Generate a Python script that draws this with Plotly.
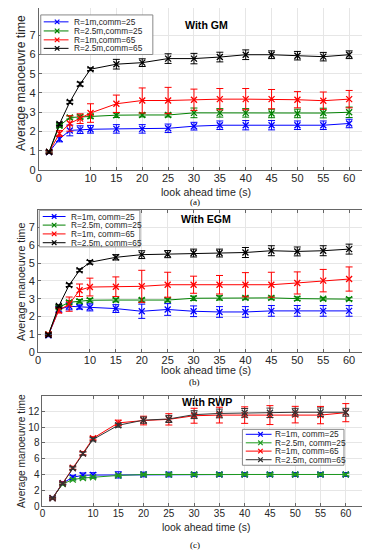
import plotly.graph_objects as go

# ---------------- data ----------------
look_ahead = [2, 4, 6, 8, 10, 15, 20, 25, 30, 35, 40, 45, 50, 55, 60]
x_tick_vals = [0, 10, 15, 20, 25, 30, 35, 40, 45, 50, 55, 60]

names_a = ["R=1m,comm=25", "R=2.5m,comm=25", "R=1m,comm=65", "R=2.5m,comm=65"]
names_bc = ["R=1m, comm=25", "R=2.5m, comm=25", "R=1m, comm=65", "R=2.5m, comm=65"]

# (a) With GM
gm_r1_c25 = [0.94, 1.62, 2.06, 2.10, 2.12, 2.14, 2.14, 2.17, 2.28, 2.33, 2.33, 2.33, 2.33, 2.33, 2.42]
gm_r1_c25_err = [0.08, 0.15, 0.28, 0.2, 0.2, 0.22, 0.22, 0.22, 0.2, 0.22, 0.24, 0.24, 0.22, 0.22, 0.22]
gm_r25_c25 = [0.95, 2.30, 2.73, 2.76, 2.79, 2.85, 2.86, 2.86, 2.97, 2.97, 2.97, 2.94, 2.94, 2.96, 3.0]
gm_r25_c25_err = [0.06, 0.08, 0.08, 0.1, 0.1, 0.12, 0.1, 0.1, 0.25, 0.22, 0.22, 0.22, 0.22, 0.25, 0.27]
gm_r1_c65 = [0.95, 1.90, 2.42, 2.67, 2.96, 3.44, 3.61, 3.61, 3.65, 3.68, 3.68, 3.68, 3.65, 3.60, 3.68]
gm_r1_c65_err = [0.06, 0.15, 0.4, 0.25, 0.48, 0.45, 0.65, 0.68, 0.55, 0.55, 0.55, 0.5, 0.42, 0.45, 0.45]
gm_r25_c65 = [0.94, 2.39, 3.53, 4.46, 5.23, 5.49, 5.57, 5.78, 5.78, 5.86, 5.98, 5.98, 5.93, 5.88, 5.98]
gm_r25_c65_err = [0.05, 0.07, 0.07, 0.1, 0.07, 0.25, 0.2, 0.25, 0.27, 0.25, 0.25, 0.2, 0.22, 0.22, 0.2]

# (b) With EGM
egm_r1_c25 = [0.95, 2.40, 2.58, 2.54, 2.52, 2.45, 2.30, 2.40, 2.30, 2.26, 2.26, 2.32, 2.32, 2.32, 2.32]
egm_r1_c25_err = [0.08, 0.15, 0.2, 0.12, 0.2, 0.22, 0.4, 0.33, 0.3, 0.3, 0.3, 0.3, 0.3, 0.3, 0.3]
egm_r25_c25 = [1.0, 2.52, 2.80, 2.86, 2.92, 2.93, 2.93, 2.93, 3.03, 3.05, 3.05, 3.05, 3.01, 3.0, 2.98]
egm_r25_c25_err = [0.06, 0.08, 0.1, 0.1, 0.1, 0.1, 0.1, 0.1, 0.12, 0.12, 0.1, 0.1, 0.1, 0.08, 0.08]
egm_r1_c65 = [1.0, 2.35, 2.70, 3.48, 3.66, 3.68, 3.70, 3.79, 3.79, 3.79, 3.79, 3.79, 3.89, 4.02, 4.11]
egm_r1_c65_err = [0.08, 0.15, 0.4, 0.35, 0.5, 0.55, 0.9, 0.7, 0.48, 0.52, 0.68, 0.7, 0.62, 0.63, 0.68]
egm_r25_c65 = [0.97, 2.60, 3.77, 4.60, 5.05, 5.33, 5.48, 5.51, 5.57, 5.57, 5.60, 5.70, 5.66, 5.70, 5.79]
egm_r25_c65_err = [0.05, 0.06, 0.08, 0.08, 0.1, 0.15, 0.22, 0.2, 0.22, 0.22, 0.28, 0.28, 0.25, 0.28, 0.28]

# (c) With RWP
rwp_r1_c25 = [1.0, 2.9, 3.65, 3.9, 3.93, 3.95, 4.0, 4.0, 4.0, 4.0, 4.0, 4.0, 4.0, 4.0, 4.0]
rwp_r1_c25_err = [0.15, 0.2, 0.25, 0.3, 0.3, 0.4, 0.3, 0.3, 0.25, 0.25, 0.25, 0.25, 0.25, 0.25, 0.25]
rwp_r25_c25 = [1.0, 2.8, 3.35, 3.55, 3.65, 3.88, 4.0, 4.0, 4.0, 4.0, 4.0, 4.0, 4.0, 4.0, 4.0]
rwp_r25_c25_err = [0.1, 0.15, 0.15, 0.15, 0.15, 0.15, 0.15, 0.15, 0.15, 0.15, 0.15, 0.15, 0.15, 0.15, 0.15]
rwp_r1_c65 = [1.0, 2.9, 4.85, 6.7, 8.6, 10.55, 10.85, 11.0, 11.46, 11.54, 11.54, 11.54, 11.6, 11.54, 11.85]
rwp_r1_c65_err = [0.1, 0.15, 0.2, 0.2, 0.2, 0.35, 0.55, 0.72, 0.95, 1.0, 1.05, 1.2, 1.05, 1.1, 1.15]
rwp_r25_c65 = [1.0, 2.85, 4.8, 6.65, 8.45, 10.25, 10.9, 11.05, 11.6, 11.75, 11.83, 11.83, 11.9, 11.9, 11.9]
rwp_r25_c65_err = [0.1, 0.1, 0.15, 0.2, 0.2, 0.25, 0.4, 0.45, 0.5, 0.55, 0.55, 0.6, 0.5, 0.55, 0.5]

panel_titles = ["With GM", "With EGM", "With RWP"]
captions = ["(a)", "(b)", "(c)"]
x_title = "look ahead time (s)"
y_title = "Average manoeuvre time"

# ---------------- layout helpers ----------------
W, H = 370, 550
def fx(p):
    return p / W
def fy(p):
    return 1 - p / H

FONT = "Liberation Sans, Arial, sans-serif"
colors_ab = ["#0000ff", "#008000", "#ff0000", "#000000"]
colors_c = ["#0000ff", "#1f9a1f", "#ff0000", "#333333"]

panels = [
    dict(series=[(gm_r1_c25, gm_r1_c25_err), (gm_r25_c25, gm_r25_c25_err),
                 (gm_r1_c65, gm_r1_c65_err), (gm_r25_c65, gm_r25_c65_err)],
         names=names_a, colors=colors_ab,
         xpx=(28, 367), ypx=(0, 164), yrange=[0, 8.4], yticks=list(range(0, 8)),
         tickfont=11, xmirror=False,
         title_xy=(197, 17), cap_y=196, xt_y=186, yt=(10, 76, 12.2), xt_size=10.6,
         leg=dict(box=(30, 7, 143, 47), rows=[14, 23.2, 32.2, 40.8], line=(33, 58), mark=46.5, text=62)),
    dict(series=[(egm_r1_c25, egm_r1_c25_err), (egm_r25_c25, egm_r25_c25_err),
                 (egm_r1_c65, egm_r1_c65_err), (egm_r25_c65, egm_r25_c65_err)],
         names=names_bc, colors=colors_ab,
         xpx=(27.3, 367), ypx=(204, 348), yrange=[0, 8], yticks=list(range(0, 8)),
         tickfont=11, xmirror="ticks",
         title_xy=(197, 213), cap_y=378, xt_y=366, yt=(10, 277, 10.6), xt_size=10.6,
         leg=dict(box=(28.5, 204.5, 130, 241.5), rows=[210.8, 219.5, 228.4, 237.3], line=(32, 55), mark=43.5, text=58.5)),
    dict(series=[(rwp_r1_c25, rwp_r1_c25_err), (rwp_r25_c25, rwp_r25_c25_err),
                 (rwp_r1_c65, rwp_r1_c65_err), (rwp_r25_c65, rwp_r25_c65_err)],
         names=names_bc, colors=colors_c,
         xpx=(31.7, 363), ypx=(392, 503.5), yrange=[0, 14], yticks=list(range(0, 14, 2)),
         tickfont=10, xmirror="ticks",
         title_xy=(198, 398), cap_y=543, xt_y=525, yt=(10, 448, 10.2), xt_size=10.4,
         leg=dict(box=(233.3, 426, 335.7, 462.3), rows=[431, 439.6, 448, 456.7], line=(236.7, 262.7), mark=251.5, text=264.5)),
]

fig = go.Figure()
shapes = []
annotations = []

for i, p in enumerate(panels, start=1):
    xa = "x" if i == 1 else f"x{i}"
    ya = "y" if i == 1 else f"y{i}"
    for (vals, errs), name, col in zip(p["series"], p["names"], p["colors"]):
        fig.add_trace(go.Scatter(
            x=look_ahead, y=vals, name=name, xaxis=xa, yaxis=ya, mode="lines+markers",
            line=dict(color=col, width=1),
            marker=dict(symbol="x-thin", size=6, line=dict(color=col, width=1.3), color=col),
            error_y=dict(type="data", array=errs, visible=True, color=col, thickness=1, width=3.5),
            showlegend=False,
        ))
    axis_common = dict(showline=True, linecolor="#666666", linewidth=1, ticks="inside", ticklen=3,
                       tickcolor="#666666", showgrid=True, gridcolor="#e6e6e6", gridwidth=1,
                       zeroline=False, tickfont=dict(family=FONT, size=p["tickfont"], color="#262626"))
    fig.update_layout(**{
        ("xaxis" if i == 1 else f"xaxis{i}"): dict(
            domain=[fx(p["xpx"][0]), fx(p["xpx"][1])], range=[0, 65], anchor=ya,
            tickvals=x_tick_vals, mirror=p["xmirror"], ticklabelstandoff=-2, **axis_common),
        ("yaxis" if i == 1 else f"yaxis{i}"): dict(
            domain=[fy(p["ypx"][1]), fy(p["ypx"][0])], range=p["yrange"], anchor=xa,
            tickvals=p["yticks"], mirror="ticks", **axis_common),
    })
    # texts
    annotations.append(dict(text=f"<b>{panel_titles[i-1]}</b>", x=fx(p["title_xy"][0]), y=fy(p["title_xy"][1]),
                            xref="paper", yref="paper", showarrow=False, xanchor="center", yanchor="middle",
                            font=dict(family=FONT, size=10.6, color="#000000")))
    annotations.append(dict(text=x_title, x=fx(197), y=fy(p["xt_y"]), xref="paper", yref="paper",
                            showarrow=False, xanchor="center", yanchor="middle",
                            font=dict(family=FONT, size=p["xt_size"], color="#262626")))
    annotations.append(dict(text=y_title, x=fx(p["yt"][0]), y=fy(p["yt"][1]), xref="paper", yref="paper",
                            showarrow=False, xanchor="center", yanchor="middle", textangle=-90,
                            font=dict(family=FONT, size=p["yt"][2], color="#262626")))
    annotations.append(dict(text=captions[i-1], x=fx(185), y=fy(p["cap_y"]), xref="paper", yref="paper",
                            showarrow=False, xanchor="center", yanchor="middle",
                            font=dict(family="Liberation Serif, Times New Roman, serif", size=9, color="#000000")))
    # legend (drawn manually to match compact MATLAB legend)
    lg = p["leg"]
    bx0, by0, bx1, by1 = lg["box"]
    shapes.append(dict(type="rect", xref="paper", yref="paper", x0=fx(bx0), x1=fx(bx1), y0=fy(by1), y1=fy(by0),
                       line=dict(color="#888888", width=1), fillcolor="white", layer="above"))
    for row, name, col in zip(lg["rows"], p["names"], p["colors"]):
        shapes.append(dict(type="line", xref="paper", yref="paper", x0=fx(lg["line"][0]), x1=fx(lg["line"][1]),
                           y0=fy(row), y1=fy(row), line=dict(color=col, width=1), layer="above"))
        m = 2.3
        shapes.append(dict(type="line", xref="paper", yref="paper", x0=fx(lg["mark"] - m), x1=fx(lg["mark"] + m),
                           y0=fy(row - m), y1=fy(row + m), line=dict(color=col, width=1.2), layer="above"))
        shapes.append(dict(type="line", xref="paper", yref="paper", x0=fx(lg["mark"] - m), x1=fx(lg["mark"] + m),
                           y0=fy(row + m), y1=fy(row - m), line=dict(color=col, width=1.2), layer="above"))
        annotations.append(dict(text=name, x=fx(lg["text"]), y=fy(row), xref="paper", yref="paper",
                                showarrow=False, xanchor="left", yanchor="middle",
                                font=dict(family=FONT, size=8.3, color="#262626")))

fig.update_layout(
    width=W, height=H, margin=dict(l=0, r=0, t=0, b=0),
    paper_bgcolor="white", plot_bgcolor="white",
    showlegend=False, shapes=shapes, annotations=annotations,
    font=dict(family=FONT),
)

fig.write_html("out.html")
